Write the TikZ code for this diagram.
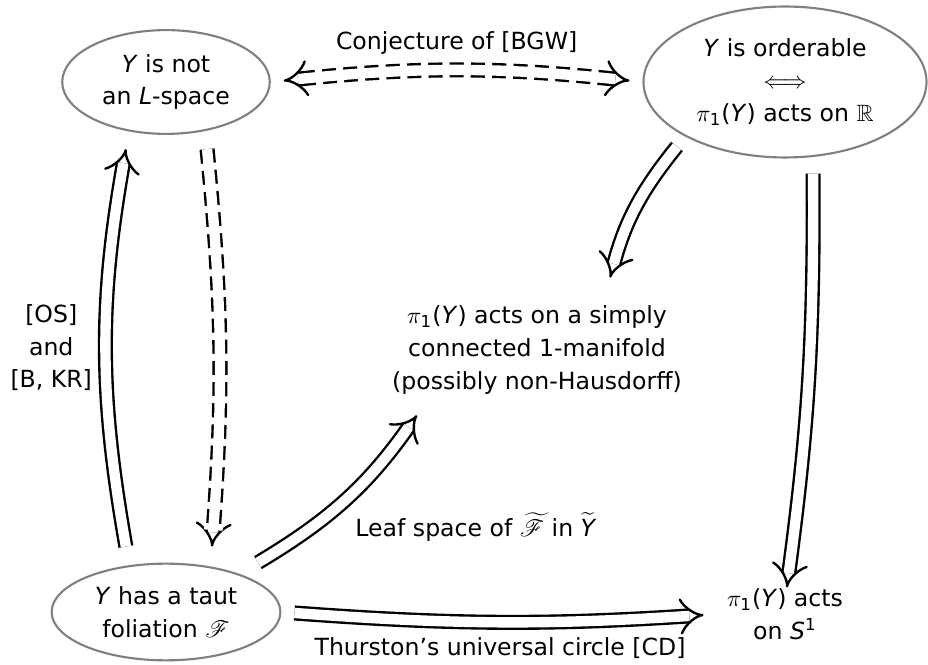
\documentclass[tikz,border=0pt]{standalone}
\usepackage{amsmath,amssymb}
\usepackage{mathrsfs}
\usepackage{fontspec}
\setmainfont{DejaVu Sans}
\usetikzlibrary{arrows.meta,shapes.geometric}

\newcommand{\Yit}{\textit{Y}}

\begin{document}
\begin{tikzpicture}[x=0.424pt, y=-0.424pt,
    font=\fontsize{10}{13.8}\selectfont,
    >={Implies},
    oval/.style={ellipse, draw=gray, line width=0.9pt, inner sep=0pt, align=center},
    impl/.style={double, double distance=4.4pt, line width=1pt},
    conj/.style 2 args={impl, postaction={draw=white, solid, line width=8pt, -,
        dash pattern=on 3pt off 6pt, dash phase=3pt, shorten <=#1, shorten >=#2}}]
        \useasboundingbox (0,0) rectangle (928,665);

        % Statements
        \node[oval, minimum width=88pt, minimum height=44pt] (notl) at (166,82) {\Yit{} is not\\an \textit{L}-space};
        \node[oval, minimum width=120pt, minimum height=64pt] (ord) at (785,82) {\Yit{} is orderable\\$\Longleftrightarrow$\\$\pi_{\text{1}}$(\Yit) acts on $\mathbb{R}$};
        \node[align=center] (mani) at (537,350) {$\pi_{\text{1}}$(\Yit) acts on a simply\\connected 1-manifold\\(possibly non-Hausdorff)};
        \node[oval, minimum width=97pt, minimum height=41pt] (taut) at (166,612) {\Yit{} has a taut\\foliation $\mathscr{F}$};
        \node[align=center] (circ) at (785,614) {$\pi_{\text{1}}$(\Yit) acts\\on \textit{S}\textsuperscript{1}};

        % Conjecture
        \draw[conj={13pt}{13pt}, <->, shorten <=5.5pt, shorten >=5.5pt] (notl.east) to[bend left=6] node[above=3pt] {Conjecture of [BGW]} (ord.west);

        % Left side
        \draw[conj={0pt}{7pt}, ->] ([xshift=17.4pt, yshift=-6pt]notl.south) to[bend left=5] ([xshift=19.5pt, yshift=6.8pt]taut.north);
        \draw[impl, ->] ([xshift=-17pt, yshift=6.8pt]taut.north) to[bend left=10] node[left=2pt, align=center] {[OS]\\and\\{[}B, KR{]}} ([xshift=-17pt, yshift=-6pt]notl.south);

        % Right side
        \draw[impl, ->] ([xshift=-45.8pt, yshift=5.1pt]ord.south) to[bend right=12] ([xshift=31pt, yshift=8.5pt]mani.north);
        \draw[impl, ->] ([xshift=11.9pt, yshift=-6.4pt]ord.south) to[bend left=4] ([xshift=0.8pt, yshift=-3pt]circ.north);

        % Bottom
        \draw[impl, ->] ([xshift=39pt]taut.north) to[bend right=12] node[midway, anchor=west, yshift=-12pt] {Leaf space of $\widetilde{\mathscr{F}}$ in $\widetilde{\text{\itshape Y}}$} ([xshift=-50.9pt, yshift=-5.5pt]mani.south);
        \draw[impl, ->, shorten <=5.5pt, shorten >=6.4pt] (taut.east) to[bend right=4] node[below=3pt] {Thurston’s universal circle [CD]} (circ.west);
    \end{tikzpicture}
\end{document}
